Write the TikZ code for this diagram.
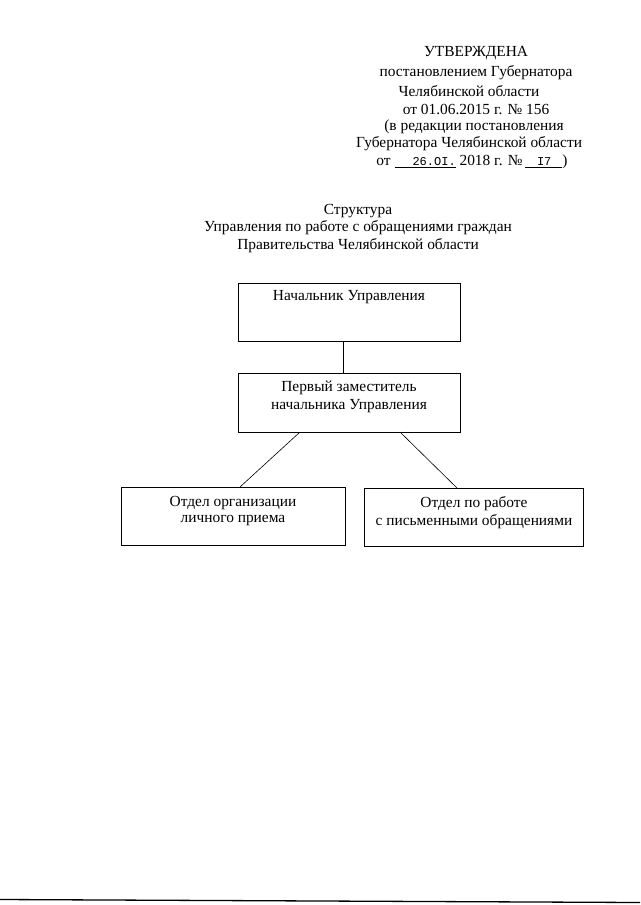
\documentclass[tikz,border=0pt]{standalone}
\usepackage{fontspec}
\setmainfont{Liberation Serif}
\newfontfamily\typed{Liberation Mono}
\newcommand{\typedtext}[1]{{\typed\fontsize{12}{14}\selectfont #1}}
\begin{document}
\begin{tikzpicture}[x=1pt,y=-1pt,
  txt/.style={inner sep=0pt,anchor=center,font=\fontsize{15.4}{18}\selectfont},
  orgbox/.style={draw,line width=0.6pt},
  link/.style={line width=0.6pt}]
\useasboundingbox (0,0) rectangle (640,905);
% header
\node[txt] (h1) at (476,53) {УТВЕРЖДЕНА};
\node[txt] (h2) at (476,73) {постановлением Губернатора};
\node[txt] (h3) at (469,91) {Челябинской области};
\node[txt] (h4) at (476,109) {от 01.06.2015 г. № 156};
\node[txt] (h5) at (474,127) {(в редакции постановления};
\node[txt] (h6) at (469,144) {Губернатора Челябинской области};
\node[txt] (h7) at (472,162) {от \underline{\hspace{18pt}\typedtext{26.OI.}} 2018 г. №\,\underline{\hspace{12pt}\typedtext{I7}\hspace{11pt}})};
% title
\node[txt] (t1) at (358,211) {Структура};
\node[txt] (t2) at (358,228) {Управления по работе с обращениями граждан};
\node[txt] (t3) at (358,246) {Правительства Челябинской области};
% boxes
\draw[orgbox] (238,283) rectangle (460,341);
\coordinate (b1s) at (343,341);
\node[txt] (n1) at (349,297) {Начальник Управления};
\draw[orgbox] (238,373) rectangle (460,432);
\coordinate (b2n) at (343,373);
\coordinate (b2l) at (300,432);
\coordinate (b2r) at (400,432);
\node[txt] (n2a) at (349,388) {Первый заместитель};
\node[txt] (n2b) at (349,406) {начальника Управления};
\draw[orgbox] (121,487) rectangle (345,545);
\coordinate (b3n) at (240,487);
\node[txt] (n3a) at (233,503) {Отдел организации};
\node[txt] (n3b) at (233,521) {личного приема};
\draw[orgbox] (364,488) rectangle (583,546);
\coordinate (b4n) at (457,488);
\node[txt] (n4a) at (474,504) {Отдел по работе};
\node[txt] (n4b) at (474,522) {с письменными обращениями};
% links
\draw[link] (b1s) -- (b2n);
\draw[link] (b2l) -- (b3n);
\draw[link] (b2r) -- (b4n);
% bottom scan line
\coordinate (sl) at (0,899.5);
\coordinate (sr) at (640,902.5);
\draw[line width=1.3pt] (sl) -- (sr);
\end{tikzpicture}
\end{document}
